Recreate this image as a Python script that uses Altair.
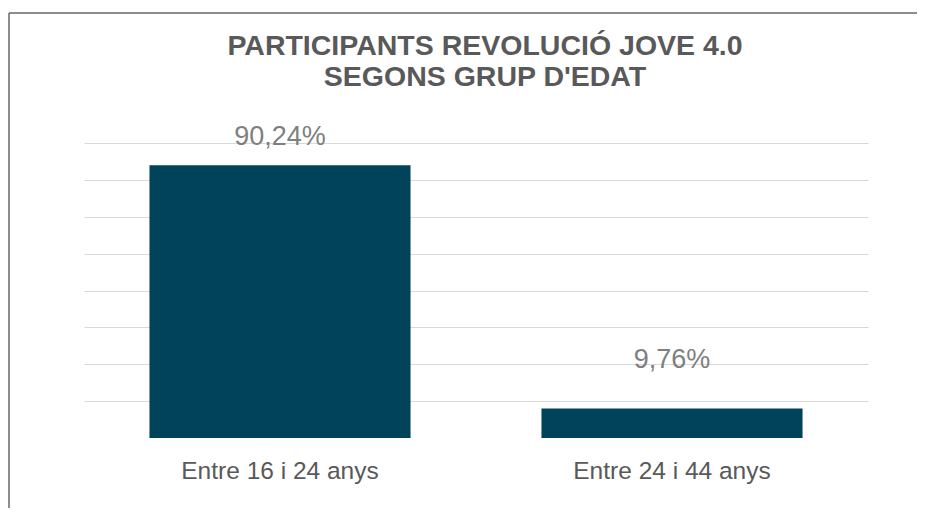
import altair as alt
import pandas as pd

categories = ["Entre 16 i 24 anys", "Entre 24 i 44 anys"]
counts = [37, 4]
pct_labels = ["90,24%", "9,76%"]
label_pos = [40.8, 10.6]
grid_values = [5, 10, 15, 20, 25, 30, 35, 40]

df = pd.DataFrame({"cat": categories, "n": counts, "lab": pct_labels, "ly": label_pos})

W, H = 784, 295
FONT = "Liberation Sans"

x_axis = alt.Axis(labelFontSize=24.5, labelColor="#595959", labelFont=FONT,
                  ticks=False, domain=False, labelPadding=21, labelAngle=0,
                  labelLimit=0, grid=False)
x_scale = alt.Scale(paddingInner=0.334, paddingOuter=0.167)
y_scale = alt.Scale(domain=[0, 40], nice=False, zero=True)
y_axis = alt.Axis(values=grid_values, labels=False, ticks=False, domain=False,
                  grid=True, gridColor="#d9d9d9", gridWidth=1)

bars = alt.Chart(df).mark_bar(color="#00435a").encode(
    x=alt.X("cat:N", sort=categories, title=None, scale=x_scale, axis=x_axis),
    y=alt.Y("n:Q", scale=y_scale, title=None, axis=y_axis),
)

texts = alt.Chart(df).mark_text(fontSize=27, font=FONT, color="#7f7f7f",
                                baseline="middle", align="center").encode(
    x=alt.X("cat:N", sort=categories, title=None, scale=x_scale, axis=x_axis),
    y=alt.Y("ly:Q", scale=y_scale, title=None, axis=y_axis),
    text="lab:N",
)

one = pd.DataFrame({"f": [0]})
frame_top = alt.Chart(one).mark_rule(color="#666666", strokeWidth=1.5).encode(
    x=alt.value(-75), x2=alt.value(W + 400), y=alt.value(-130),
)
frame_left = alt.Chart(one).mark_rule(color="#666666", strokeWidth=1.5).encode(
    x=alt.value(-75), y=alt.value(-130), y2=alt.value(H + 300),
)

chart = alt.layer(bars, texts, frame_top, frame_left).properties(
    width=W, height=H,
    background="white",
    title=alt.TitleParams(
        text=["PARTICIPANTS REVOLUCIÓ JOVE 4.0", "SEGONS GRUP D'EDAT"],
        anchor="middle", fontSize=28.5, fontWeight="bold", color="#595959",
        font=FONT, lineHeight=31, offset=-108, baseline="bottom", dx=9,
    ),
    autosize=alt.AutoSizeParams(type="none"),
    padding={"left": 76, "top": 135, "right": 49, "bottom": 70},
).configure_view(strokeWidth=0, stroke="transparent")

chart.save("out.html", embed_options={"renderer": "svg", "actions": False})
